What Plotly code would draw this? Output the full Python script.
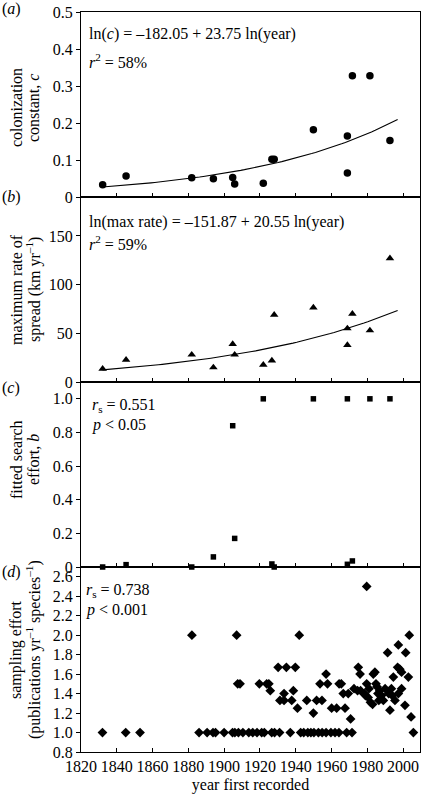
import plotly.graph_objects as go
import numpy as np

# ---- data ----
species_years = [1832.1, 1845.2, 1881.9, 1894.0, 1904.8, 1905.9, 1921.9, 1926.7,
                 1928.0, 1949.9, 1968.9, 1968.9, 1971.7, 1981.5, 1992.7]
colonization_c = [0.033, 0.057, 0.052, 0.049, 0.053, 0.035, 0.037, 0.102,
                  0.102, 0.182, 0.165, 0.065, 0.328, 0.328, 0.153]
max_rate = [13.5, 22.8, 28, 15, 39, 28, 17.6, 22, 69, 76.5, 55, 38, 70, 53, 127]
search_effort_b = [0.0, 0.014, 0.0, 0.06, 0.84, 0.17, 1.0, 0.018, 0.0, 1.0,
                   1.0, 0.016, 0.036, 1.0, 1.0]

# fitted models printed on the chart
fit_a_intercept, fit_a_slope = -182.05, 23.75
fit_b_intercept, fit_b_slope = -151.87, 20.55
fit_year_start, fit_year_end = 1832, 1997

sampling_years = [
    1832, 1845, 1853, 1886, 1890.5, 1893.8, 1895.2, 1900, 1904.7, 1906, 1908,
    1910.5, 1913.8, 1916, 1918.4, 1921, 1922.5, 1926.6, 1928.2, 1931, 1937,
    1942.8, 1944.5, 1946.8, 1948.5, 1950.2, 1952.7, 1954.8, 1957, 1959.7, 1962,
    1964.2, 1968.5, 1971.5, 2005.8,
    1882, 1907, 1942, 2003.5,
    1979.7,
    1997.4,
    1991.4, 2001.5,
    1930.2, 1934.8, 1939.8, 1975, 1997.0,
    1998.2,
    1999.2, 1984.3,
    1957, 1976, 1983.4,
    1994.6, 2003,
    1907.6, 1908.9, 1919.7, 1923.8, 1925, 1953.6, 1957.8, 1964.3, 1965.5, 1979.7, 1984.9,
    1985.5,
    1981, 1990, 1993.5, 1999.2, 1972.6,
    1925.8, 1938.7, 1974.6, 1976.3, 1987,
    1933.5, 1966.6, 1969.4, 1978.4, 1986, 1992, 1997.4,
    1979, 1988, 1994,
    1980.5,
    1931.2, 1933.5, 1937.8, 1946.2, 1951.7, 1954.7, 1995.5, 1986.5, 1989,
    1981.8,
    1983,
    2001.1,
    1941, 1960.1, 1962.9, 1967.6,
    1992.7,
    1949.9,
    2004.5,
    1970.7,
]
sampling_effort = (
    [1.0] * 35
    + [2.0] * 4
    + [2.5]
    + [1.9]
    + [1.82] * 2
    + [1.67] * 5
    + [1.65]
    + [1.62] * 2
    + [1.6] * 3
    + [1.57] * 2
    + [1.5] * 11
    + [1.47]
    + [1.45] * 5
    + [1.43] * 5
    + [1.4] * 7
    + [1.38] * 3
    + [1.36]
    + [1.33] * 9
    + [1.31]
    + [1.29]
    + [1.28]
    + [1.25] * 4
    + [1.23]
    + [1.2]
    + [1.16]
    + [1.14]
)

x_ticks = [1820, 1840, 1860, 1880, 1900, 1920, 1940, 1960, 1980, 2000]
a_ticks = [0, 0.1, 0.2, 0.3, 0.4, 0.5]
a_ticktext = ["0", "0.1", "0.2", "0.3", "0.4", "0.5"]
b_ticks = [0, 50, 100, 150]
c_ticks = [0, 0.2, 0.4, 0.6, 0.8, 1.0]
c_ticktext = ["0", "0.2", "0.4", "0.6", "0.8", "1.0"]
d_ticks = [0.8, 1.0, 1.2, 1.4, 1.6, 1.8, 2.0, 2.2, 2.4, 2.6]
d_ticktext = ["0.8", "1.0", "1.2", "1.4", "1.6", "1.8", "2.0", "2.2", "2.4", "2.6"]

# ---- figure ----
FONT = "Liberation Serif, Times New Roman, serif"
FS = 16

fit_years = np.linspace(fit_year_start, fit_year_end, 80)
fit_a = np.exp(fit_a_intercept + fit_a_slope * np.log(fit_years))
fit_b = np.exp(fit_b_intercept + fit_b_slope * np.log(fit_years))

fig = go.Figure()
mk = dict(color="black")
fig.add_trace(go.Scatter(x=fit_years, y=fit_a, mode="lines", line=dict(color="black", width=1.1),
                         xaxis="x", yaxis="y", cliponaxis=False))
fig.add_trace(go.Scatter(x=species_years, y=colonization_c, mode="markers",
                         marker=dict(symbol="circle", size=7.5, **mk), xaxis="x", yaxis="y", cliponaxis=False))
fig.add_trace(go.Scatter(x=fit_years, y=fit_b, mode="lines", line=dict(color="black", width=1.1),
                         xaxis="x2", yaxis="y2", cliponaxis=False))
fig.add_trace(go.Scatter(x=species_years, y=max_rate, mode="markers",
                         marker=dict(symbol="triangle-up", size=7.5, **mk), xaxis="x2", yaxis="y2", cliponaxis=False))
fig.add_trace(go.Scatter(x=species_years, y=search_effort_b, mode="markers",
                         marker=dict(symbol="square", size=5.5, **mk), xaxis="x3", yaxis="y3", cliponaxis=False))
fig.add_trace(go.Scatter(x=sampling_years, y=sampling_effort, mode="markers",
                         marker=dict(symbol="diamond", size=7.5, **mk), xaxis="x4", yaxis="y4", cliponaxis=False))

H = 740.0
doms = [(0.75, 1.0), (0.5, 0.75), (0.25, 0.5), (0.0, 0.25)]
xrange_ = [1820, 2009.5]

def xax(show_labels, anchor):
    return dict(range=xrange_, tickvals=x_ticks, ticks="inside", ticklen=4, tickcolor="black",
                showline=True, linecolor="black", linewidth=1, mirror=True, showgrid=False,
                zeroline=False, showticklabels=show_labels, anchor=anchor,
                tickfont=dict(family=FONT, size=FS, color="black"))

def yax(rng, vals, text, dom, anchor):
    return dict(range=rng, tickvals=vals, ticktext=text, ticks="outside", ticklen=4, tickcolor="black",
                showline=True, linecolor="black", linewidth=1, mirror=True, showgrid=False,
                zeroline=False, domain=list(dom), anchor=anchor,
                tickfont=dict(family=FONT, size=FS, color="black"))

fig.update_layout(
    width=421, height=799,
    margin=dict(l=81, r=1, t=12, b=47),
    paper_bgcolor="white", plot_bgcolor="white",
    showlegend=False,
    font=dict(family=FONT, size=FS, color="black"),
    xaxis=xax(False, "y"),
    xaxis2=xax(False, "y2"),
    xaxis3=xax(False, "y3"),
    xaxis4=dict(xax(True, "y4"), title=dict(text="year first recorded",
                font=dict(family=FONT, size=FS, color="black"), standoff=4)),
    yaxis=yax([0, 0.5], a_ticks, a_ticktext, doms[0], "x"),
    yaxis2=yax([0, 190], b_ticks, [str(v) for v in b_ticks], doms[1], "x2"),
    yaxis3=yax([0, 1.1], c_ticks, c_ticktext, doms[2], "x3"),
    yaxis4=yax([0.8, 2.7], d_ticks, d_ticktext, doms[3], "x4"),
)

def ann(text, x, y, **kw):
    d = dict(text=text, x=x, y=y, xref="paper", yref="paper", showarrow=False,
             font=dict(family=FONT, size=FS, color="black"))
    d.update(kw)
    fig.add_annotation(**d)

px = lambda p: (p - 81) / 339.0
py = lambda p: (752 - p) / H

# in-panel statistics (pixel positions: left x, centre y)
stats = [
    ("ln(<i>c</i>) = –182.05 + 23.75 ln(year)", 87, 34),
    ("<i>r</i><sup>2</sup> = 58%", 87, 61),
    ("ln(max rate) = –151.87 + 20.55 ln(year)", 87, 222),
    ("<i>r</i><sup>2</sup> = 59%", 87, 243),
    ("<i>r</i><sub>s</sub> = 0.551", 90, 405),
    ("<i>p</i> &lt; 0.05", 90, 425),
    ("<i>r</i><sub>s</sub> = 0.738", 84, 590),
    ("<i>p</i> &lt; 0.001", 84, 610),
]
for t, xp, yp in stats:
    ann(t, px(xp), py(yp), xanchor="left", yanchor="middle")

# panel letters
for lab, ypix in [("a", 9), ("b", 197), ("c", 388), ("d", 572)]:
    ann(f"(<i>{lab}</i>)", px(0), py(ypix), xanchor="left", yanchor="middle")

# y-axis titles (two lines each)
titles = [
    ("colonization", "constant, <i>c</i>", 108),
    ("maximum rate of", "spread (km yr<sup>–1</sup>)", 290),
    ("fitted search", "effort, <i>b</i>", 460),
    ("sampling effort", "(publications yr<sup>–1</sup> species<sup>–1</sup>)", 650),
]
for l1, l2, yp in titles:
    ann(l1, px(16), py(yp), textangle=-90, xanchor="center", yanchor="middle")
    ann(l2, px(33), py(yp), textangle=-90, xanchor="center", yanchor="middle")

fig.write_html("out.html", config={"displayModeBar": False},
               post_script="document.body.style.margin='0';document.body.style.padding='0';")
